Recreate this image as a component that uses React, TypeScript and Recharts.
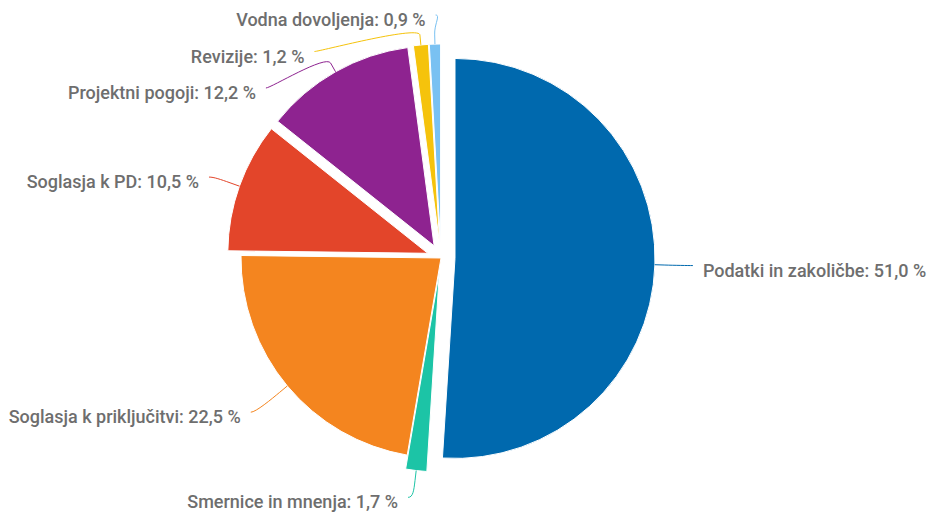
import React from 'react';
import { PieChart, Pie, Cell } from 'recharts';

// ---- data ----
const categories = [
  'Podatki in zakoličbe',
  'Smernice in mnenja',
  'Soglasja k priključitvi',
  'Soglasja k PD',
  'Projektni pogoji',
  'Revizije',
  'Vodna dovoljenja',
];
const shares = [51.0, 1.7, 22.5, 10.5, 12.2, 1.2, 0.9];
const slicedFlags = [true, true, false, true, true, true, true];
const colors = ['#0069ae', '#1cc4a6', '#f4851f', '#e3452a', '#8e2390', '#f5c30c', '#79c1f2'];

// ---- layout constants ----
const W = 928;
const H = 515;
const CX = 441;
const CY = 258;
const RADIUS = 200;
const SLICE_OFFSET = 14;
const LABEL_DIST = 27;
const LABEL_CX = CX + 3;
const LABEL_STEP = 36.5;
const LABEL_MIN_Y = 15;
const LABEL_MAX_Y = H - 15;
const TEXT_COLOR = '#6e6e6e';

const rows = categories.map((name, i) => ({ name, value: shares[i] }));
const total = shares.reduce((a, b) => a + b, 0);

type SliceGeom = { theta: number; dx: number; dy: number; left: boolean };
let acc = 0;
const geoms: SliceGeom[] = shares.map((v) => {
  const theta = ((acc + v / 2) / total) * 2 * Math.PI; // clockwise from 12 o'clock
  acc += v;
  const dx = Math.sin(theta);
  const dy = -Math.cos(theta);
  return { theta, dx, dy, left: dx < 0 };
});

// distribute labels on each side (grouping to avoid overlaps)
function distribute(targets: number[], step: number, minY: number, maxY: number): number[] {
  type G = { idx: number[]; pos: number };
  const order = targets.map((t, i) => i).sort((a, b) => targets[a] - targets[b]);
  let groups: G[] = order.map((i) => ({ idx: [i], pos: targets[i] }));
  const clampG = (g: G) => {
    const n = g.idx.length;
    g.pos = Math.max(minY, Math.min(maxY - (n - 1) * step, g.pos));
  };
  groups.forEach(clampG);
  let merged = true;
  while (merged) {
    merged = false;
    for (let k = 1; k < groups.length; k++) {
      const a = groups[k - 1];
      const b = groups[k];
      if (b.pos < a.pos + a.idx.length * step) {
        const idx = a.idx.concat(b.idx);
        const mean = idx.reduce((s, i) => s + targets[i], 0) / idx.length;
        const g: G = { idx, pos: mean - ((idx.length - 1) * step) / 2 };
        clampG(g);
        groups = groups.slice(0, k - 1).concat([g], groups.slice(k + 1));
        merged = true;
        break;
      }
    }
  }
  const out: number[] = new Array(targets.length).fill(0);
  groups.forEach((g) => g.idx.forEach((i, j) => (out[i] = g.pos + j * step)));
  return out;
}

const labelCenters = geoms.map((g) => ({ x: LABEL_CX + SLICE_OFFSET * g.dx, y: CY + SLICE_OFFSET * g.dy }));
const naturalY = geoms.map((g, i) => labelCenters[i].y + (RADIUS + LABEL_DIST) * g.dy);
const labelY: number[] = new Array(shares.length).fill(0);
[true, false].forEach((side) => {
  const ids = geoms.map((g, i) => i).filter((i) => geoms[i].left === side);
  const ys = distribute(ids.map((i) => naturalY[i]), LABEL_STEP, LABEL_MIN_Y, LABEL_MAX_Y);
  ids.forEach((i, k) => (labelY[i] = ys[k]));
});
const labelX = geoms.map((g, i) => {
  const rr = RADIUS + LABEL_DIST;
  const d = labelY[i] - labelCenters[i].y;
  const h = Math.sqrt(Math.max(0, rr * rr - d * d));
  return labelCenters[i].x + (g.left ? -h : h);
});

const fmt = (v: number) => v.toFixed(1).replace('.', ',') + ' %';
const RAD = Math.PI / 180;

const makeLabel = (target: number) => (props: any) => {
  const { index, cx, cy, midAngle, outerRadius } = props;
  if (index !== target) return null;
  const left = geoms[index].left;
  const ax = labelX[index];
  const ay = labelY[index];
  const sgn = left ? -1 : 1;
  const lx = ax + sgn * 8;
  const cosA = Math.cos(-midAngle * RAD);
  const sinA = Math.sin(-midAngle * RAD);
  const tx = cx + outerRadius * cosA;
  const ty = cy + outerRadius * sinA;
  const bx = cx + (outerRadius + 10) * cosA;
  const by = cy + (outerRadius + 10) * sinA;
  const d = `M ${lx} ${ay} C ${lx - sgn * 5} ${ay} ${2 * bx - tx} ${2 * by - ty} ${bx} ${by} L ${tx} ${ty}`;
  return (
    <g>
      <path d={d} fill="none" stroke={colors[index]} strokeWidth={1} />
      <text
        x={ax + sgn * 18}
        y={ay + 11}
        textAnchor={left ? 'end' : 'start'}
        fill={TEXT_COLOR}
        fontFamily="Roboto, 'Noto Sans', sans-serif"
        fontSize={18}
        fontWeight={500}
      >
        {`${categories[index]}: ${fmt(shares[index])}`}
      </text>
    </g>
  );
};

export default function App() {
  return (
    <div style={{ position: 'absolute', left: 0, top: 0, width: W, height: H, background: '#fff' }}>
      <PieChart width={W} height={H} margin={{ top: 0, right: 0, bottom: 0, left: 0 }}>
        {shares.map((_, i) => {
          const off = slicedFlags[i] ? SLICE_OFFSET : 0;
          return (
            <Pie
              key={i}
              data={rows}
              dataKey="value"
              nameKey="name"
              cx={CX + off * geoms[i].dx}
              cy={CY + off * geoms[i].dy}
              outerRadius={RADIUS}
              innerRadius={0}
              startAngle={90}
              endAngle={-270}
              isAnimationActive={false}
              labelLine={false}
              label={makeLabel(i)}
            >
              {rows.map((r, j) => (
                <Cell
                  key={j}
                  fill={j === i ? colors[j] : 'transparent'}
                  stroke={j === i ? '#ffffff' : 'none'}
                  strokeWidth={1}
                />
              ))}
            </Pie>
          );
        })}
      </PieChart>
    </div>
  );
}
